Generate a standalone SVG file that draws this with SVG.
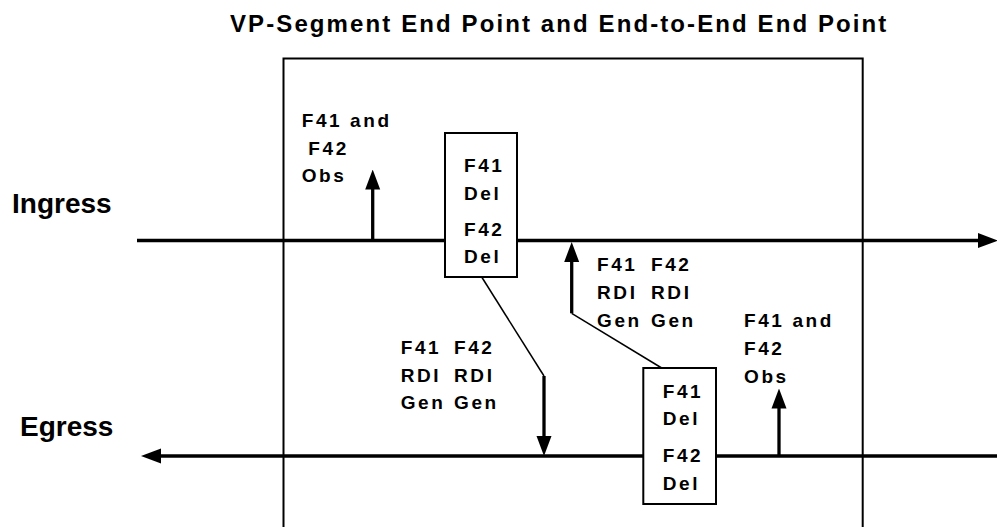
<svg xmlns="http://www.w3.org/2000/svg" width="997" height="527" viewBox="0 0 997 527">
<style>
text{font-family:"Liberation Sans",Arial,sans-serif;font-weight:bold;fill:#000}
.lbl{font-size:19px;letter-spacing:2.6px}
.side{font-size:28px}
.title{font-size:24px;letter-spacing:2.1px}
.main{stroke:#000;stroke-width:3.3;fill:none}
.stem{stroke:#000;stroke-width:3.3;fill:none}
.diag{stroke:#000;stroke-width:1.5;fill:none}
.box{fill:#fff;stroke:#000;stroke-width:2}
.frame{fill:none;stroke:#000;stroke-width:2}
</style>
<defs>
<marker id="ah" markerUnits="userSpaceOnUse" markerWidth="20" markerHeight="16" viewBox="0 0 20 16" refX="10" refY="8" orient="auto">
<path d="M0,0.5 L20,8 L0,15.5 z" fill="#000"/>
</marker>
</defs>
<text class="title" x="230" y="32">VP-Segment End Point and End-to-End End Point</text>
<path class="frame" d="M283.5,528 V58.5 H862.7 V528"/>
<text class="side" x="12" y="213">Ingress</text>
<text class="side" x="20" y="436">Egress</text>
<g id="connectors">
<line class="main" x1="137" y1="240.5" x2="988" y2="240.5" marker-end="url(#ah)"/>
<line class="main" x1="997" y1="456" x2="151" y2="456" marker-end="url(#ah)"/>
<line class="stem" x1="372.7" y1="240.5" x2="372.7" y2="179.5" marker-end="url(#ah)"/>
<polyline class="diag" points="481.7,277 544,376"/>
<line class="stem" x1="544" y1="376" x2="544" y2="446" marker-end="url(#ah)"/>
<polyline class="diag" points="661.7,368 571.7,313.3"/>
<line class="stem" x1="571.7" y1="313.3" x2="571.7" y2="252" marker-end="url(#ah)"/>
<line class="stem" x1="779" y1="456" x2="779" y2="398.5" marker-end="url(#ah)"/>
</g>
<g id="obs-ingress">
<text class="lbl" x="301.7" y="127.3">F41 and</text>
<text class="lbl" x="308.3" y="155">F42</text>
<text class="lbl" x="301.7" y="181.7">Obs</text>
</g>
<g id="del-ingress">
<rect class="box" x="445" y="133" width="72" height="144"/>
<text class="lbl" x="464" y="172.3">F41</text>
<text class="lbl" x="464" y="200">Del</text>
<text class="lbl" x="464" y="235.7">F42</text>
<text class="lbl" x="464" y="263.3">Del</text>
</g>
<g id="rdi-gen-up">
<text class="lbl" y="271"><tspan x="597">F41</tspan><tspan x="651">F42</tspan></text>
<text class="lbl" y="299"><tspan x="597">RDI</tspan><tspan x="651">RDI</tspan></text>
<text class="lbl" y="327"><tspan x="597">Gen</tspan><tspan x="651">Gen</tspan></text>
</g>
<g id="rdi-gen-down">
<text class="lbl" y="354"><tspan x="400.7">F41</tspan><tspan x="454">F42</tspan></text>
<text class="lbl" y="381.7"><tspan x="400.7">RDI</tspan><tspan x="454">RDI</tspan></text>
<text class="lbl" y="409.3"><tspan x="400.7">Gen</tspan><tspan x="454">Gen</tspan></text>
</g>
<g id="del-egress">
<rect class="box" x="643.3" y="368" width="72.7" height="136"/>
<text class="lbl" x="662.7" y="398.3">F41</text>
<text class="lbl" x="662.7" y="425">Del</text>
<text class="lbl" x="662.7" y="461.7">F42</text>
<text class="lbl" x="662.7" y="490">Del</text>
</g>
<g id="obs-egress">
<text class="lbl" x="744" y="326.7">F41 and</text>
<text class="lbl" x="744" y="355">F42</text>
<text class="lbl" x="744" y="382.7">Obs</text>
</g>
</svg>
